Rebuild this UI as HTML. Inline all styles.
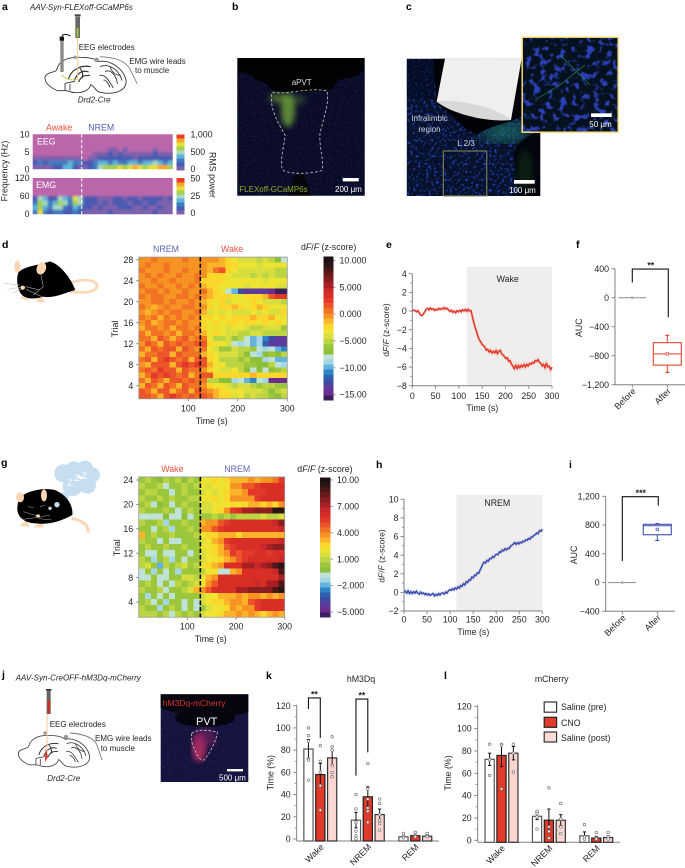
<!DOCTYPE html>
<html lang="en">
<head>
<meta charset="utf-8">
<title>Figure</title>
<style>
html,body{margin:0;padding:0;background:#fff}
svg{display:block;filter:blur(.3px)}
text{font-family:"Liberation Sans",sans-serif;font-size:8.8px;fill:#231f20}
.pl{font-weight:bold;font-size:10.5px;fill:#000}
.it{font-style:italic}
.w{fill:#fff}
.s{font-size:8px}
</style>
</head>
<body>
<svg id="fig" xmlns="http://www.w3.org/2000/svg" width="685" height="868" viewBox="0 0 685 868">
<defs>
<filter id="speck-dim" x="0" y="0" width="100%" height="100%" color-interpolation-filters="sRGB"><feTurbulence type="fractalNoise" baseFrequency="0.55" numOctaves="2" seed="4"/><feColorMatrix values="0 0 0 0 0.13 0 0 0 0 0.16 0 0 0 0 0.5 3 0 0 0 -1.75"/></filter>
<filter id="speck-cells" x="0" y="0" width="100%" height="100%" color-interpolation-filters="sRGB"><feTurbulence type="fractalNoise" baseFrequency="0.38" numOctaves="2" seed="9"/><feColorMatrix values="0 0 0 0 0.12 0 0 0 0 0.26 0 0 0 0 0.72 4.5 0 0 0 -2.4"/></filter>
<filter id="speck-inset" x="0" y="0" width="100%" height="100%" color-interpolation-filters="sRGB"><feTurbulence type="fractalNoise" baseFrequency="0.15" numOctaves="2" seed="12"/><feColorMatrix values="0 0 0 0 0.17 0 0 0 0 0.25 0 0 0 0 0.72 6 0 0 0 -3.1"/></filter>
<filter id="blur1"><feGaussianBlur stdDeviation="1"/></filter>
<filter id="blur3"><feGaussianBlur stdDeviation="3"/></filter>
<filter id="blur8"><feGaussianBlur stdDeviation="8"/></filter>
<clipPath id="clip-b"><path transform="translate(220 0) scale(.33333)" d="M52,225 C60,212 80,215 110,240 L130,245 L155,270 C190,280 290,278 335,268 L355,240 C375,232 410,240 434,205 L434,587 L52,587 Z"/></clipPath>
<clipPath id="clip-c"><rect x="406.7" y="58.7" width="133.6" height="137.3"/></clipPath>
<clipPath id="clip-inset"><rect x="521.7" y="36.7" width="96.6" height="95.6"/></clipPath>
<clipPath id="clip-eeg"><rect x="32.7" y="134.3" width="140" height="35"/></clipPath>
<clipPath id="clip-emg"><rect x="32.7" y="178" width="140" height="36.3"/></clipPath>
<g id="brain-outline" fill="none" stroke="#333" stroke-width="2.6">
<path d="M135,232 C138,216 165,218 170,210 C175,185 200,170 240,172 C270,172 285,176 295,185 C325,178 368,200 378,240 C382,268 350,287 300,277 C285,273 282,256 272,254 C268,272 240,287 200,272 L172,272 C150,262 134,248 135,232 Z"/>
<path d="M300,200 C322,190 356,205 366,242 M315,215 C330,206 350,225 352,252 M330,200 C335,215 345,226 362,226 M298,226 C315,222 326,240 340,264 M310,240 C318,240 326,250 330,262"/>
<path d="M205,238 C214,206 245,195 272,200 M222,242 C234,216 250,210 266,216 M236,246 C244,226 256,226 270,226 M240,205 C248,215 250,222 246,235" stroke-width="3.4"/>
<path d="M195,250 L195,272 M210,252 L210,272 M195,250 L225,244"/>
</g>
</defs>

<!-- panel letters -->
<text class="pl" x="2" y="10">a</text>
<text class="pl" x="232" y="10">b</text>
<text class="pl" x="406" y="10">c</text>
<text class="pl" x="2" y="248">d</text>
<text class="pl" x="386" y="248">e</text>
<text class="pl" x="576" y="248">f</text>
<text class="pl" x="1" y="466">g</text>
<text class="pl" x="376" y="468">h</text>
<text class="pl" x="569" y="468">i</text>
<text class="pl" x="2" y="678">j</text>
<text class="pl" x="266" y="679">k</text>
<text class="pl" x="444" y="679">l</text>

<!-- panel a illustration -->
<g>
<g transform="scale(.33333)">
<use href="#brain-outline"/>
<line x1="233" y1="112" x2="233" y2="240" stroke="#f6c894" stroke-width="3"/>
<path d="M185,225 C200,240 215,242 230,238" fill="none" stroke="#b6d84c" stroke-width="3"/>
<rect x="226" y="50" width="14" height="64" fill="#666"/>
<rect x="230" y="84" width="6" height="28" fill="#9ac43c"/>
<rect x="224" y="43" width="18" height="6" fill="#444"/>
<rect x="181" y="120" width="10" height="96" fill="#8a8a8a"/>
<rect x="179" y="110" width="13" height="12" fill="#111"/>
<path d="M186,110 C188,100 200,102 212,108" fill="none" stroke="#111" stroke-width="3"/>
<circle cx="225" cy="172" r="5" fill="#999"/><circle cx="290" cy="180" r="7" fill="#999"/>
<path d="M300,170 C340,172 375,180 390,207 L412,252" fill="none" stroke="#777" stroke-width="2.5"/>
</g>
</g>
<text class="it s" x="30" y="10">AAV-Syn-FLEXoff-GCaMP6s</text>
<text class="s" x="78.7" y="50">EEG electrodes</text>
<text class="s" x="129.3" y="64">EMG wire leads</text>
<text class="s" x="135" y="73">to muscle</text>
<text class="it s" x="77.7" y="102.5">Drd2-Cre</text>
<text x="46" y="130.7" style="fill:#ec5040">Awake</text>
<text x="88.3" y="130.7" style="fill:#4f5fb5">NREM</text>
<text transform="translate(7.5 171) rotate(-90)" text-anchor="middle">Frequency (Hz)</text>
<text transform="translate(209.5 175) rotate(90)" text-anchor="middle">RMS power</text>
<g id="spectro"></g>

<!-- panel b micrograph -->
<g>
<rect x="237.3" y="58" width="127.4" height="137.7" fill="#020204"/>
<g clip-path="url(#clip-b)">
<rect x="237.3" y="58" width="127.4" height="137.7" fill="#0a0c26"/>
<rect x="237.3" y="58" width="127.4" height="137.7" filter="url(#speck-dim)"/>
<g filter="url(#blur3)">
<ellipse cx="288" cy="110" rx="7" ry="17" fill="#7fb83a" opacity=".7"/>
<ellipse cx="278" cy="98" rx="9" ry="5" fill="#7fb83a" opacity=".5"/>
<ellipse cx="295" cy="100" rx="11" ry="5" fill="#5f9a3a" opacity=".35"/>
</g>
</g>
<path transform="translate(220 0) scale(.33333)" d="M205,587 C215,540 225,518 238,518 C250,518 262,540 272,587 Z" fill="#05050a"/>
<path transform="translate(220 0) scale(.33333)" d="M157,277 C200,285 260,262 320,272 C330,300 312,350 300,400 C296,440 315,490 305,512 C280,520 220,525 190,512 C175,490 195,430 195,405 C175,370 145,320 157,277 Z" fill="none" stroke="#ccc" stroke-width="2.4" stroke-dasharray="8 6"/>
</g>
<text class="s" x="301.7" y="85" text-anchor="middle" style="fill:#ddd">aPVT</text>
<rect x="342.7" y="178" width="16" height="3.4" fill="#fff"/>
<text class="s w" x="335" y="192">200 μm</text>
<text class="s" x="239.3" y="192" style="fill:#8fae2a">FLEXoff-GCaMP6s</text>

<!-- panel c micrograph -->
<g>
<g clip-path="url(#clip-c)">
<rect x="406.7" y="58.7" width="133.6" height="137.3" fill="#061028"/>
<rect x="406.7" y="58.7" width="133.6" height="137.3" filter="url(#speck-cells)"/>
<rect x="406.7" y="58.7" width="28" height="40" fill="#020a1e" opacity=".55"/>
<ellipse cx="505" cy="132" rx="26" ry="10" fill="#2ba080" opacity=".55" filter="url(#blur8)"/>
<path transform="translate(220 0) scale(.33333)" d="M640,176 L905,176 L905,350 L870,365 C830,375 800,385 770,405 L735,385 L700,350 L650,310 Z" fill="#020308"/>
<path transform="translate(220 0) scale(.33333)" d="M885,450 C900,420 930,400 961,398 L961,588 L890,588 C895,540 875,500 885,450 Z" fill="#03060e"/>
<ellipse cx="525" cy="170" rx="8" ry="20" fill="#14401f" opacity=".4" filter="url(#blur3)"/>
</g>
<path transform="translate(220 0) scale(.33333)" d="M675,176 L905,176 L873,360 C810,362 700,340 650,305 Z" fill="#efefed"/>
<path transform="translate(220 0) scale(.33333)" d="M650,305 C700,295 830,320 873,360 C810,368 700,345 650,305 Z" fill="#d8d8d6"/>
<rect x="443.3" y="151" width="43.5" height="45" fill="none" stroke="#8e8c55" stroke-width="1"/>
</g>
<text class="s" x="429.5" y="121" text-anchor="middle" style="fill:#cfd4e2">Infralimbic</text>
<text class="s" x="429.5" y="132" text-anchor="middle" style="fill:#cfd4e2">region</text>
<text class="s" x="466" y="146" text-anchor="middle" style="fill:#dde">L 2/3</text>
<rect x="514" y="180" width="20.7" height="3.7" fill="#fff"/>
<text class="s w" x="509" y="193">100 μm</text>
<g>
<g clip-path="url(#clip-inset)">
<rect x="521.7" y="36.7" width="96.6" height="95.6" fill="#05111e"/>
<rect x="521.7" y="36.7" width="96.6" height="95.6" filter="url(#speck-inset)"/>
<path d="M535,100 L560,85 L585,65 M560,55 L590,85" stroke="#2f9a55" stroke-width="1" fill="none" opacity=".6"/>
</g>
<rect x="522.2" y="37.2" width="96" height="95" fill="none" stroke="#f6dd74" stroke-width="1.5"/>
</g>
<rect x="591" y="113.3" width="20.7" height="3.7" fill="#fff"/>
<text class="s w" x="589.3" y="127">50 μm</text>

<!-- mouse d -->
<g transform="translate(0 240) scale(.33333)">
<path d="M215,127 C265,112 298,125 290,143 C282,160 240,158 210,155" fill="none" stroke="#fbd7b5" stroke-width="8"/>
<path d="M60,175 L80,160 L88,182 Z M105,185 L125,165 L135,187 Z" fill="#fbd7b5"/>
<path d="M55,98 C70,78 120,75 150,64 C185,75 215,120 226,150 C190,160 160,176 130,170 C100,180 65,178 57,150 C50,130 50,112 55,98 Z" fill="#000"/>
<ellipse cx="52" cy="80" rx="9" ry="18" fill="#fbd7b5"/>
<ellipse cx="124" cy="85" rx="14" ry="19" fill="#fbd7b5" transform="rotate(20 124 85)"/>
<ellipse cx="68" cy="143" rx="7" ry="6" fill="#fbd7b5"/>
<path d="M60,135 L10,130 M60,142 L22,148 M62,148 L40,158 M75,140 L120,150 M78,148 L125,170 M120,90 L130,140 L100,165" stroke="#bbb" stroke-width="1.6" fill="none"/>
</g>

<!-- mouse g -->
<g transform="translate(0 440) scale(.33333)">
<g fill="#c6def0">
<circle cx="190" cy="100" r="27"/><circle cx="222" cy="88" r="24"/><circle cx="255" cy="87" r="25"/><circle cx="278" cy="105" r="22"/><circle cx="262" cy="135" r="26"/><circle cx="218" cy="138" r="30"/><circle cx="190" cy="172" r="16"/>
</g>
<circle cx="171" cy="194" r="8" fill="#c6def0"/><circle cx="150" cy="205" r="5" fill="#c6def0"/><circle cx="132" cy="211" r="3" fill="#c6def0"/>
<path d="M214,235 C240,240 268,252 264,278" fill="none" stroke="#fbd7b5" stroke-width="9"/>
<path d="M58,258 L80,238 L88,260 Z M100,262 L125,242 L132,262 Z" fill="#fbd7b5"/>
<path d="M55,178 C75,152 130,142 165,150 C200,165 220,195 217,225 C190,240 150,256 110,250 C75,250 50,232 52,202 Z" fill="#000"/>
<circle cx="171" cy="194" r="8" fill="#c6def0"/><circle cx="150" cy="205" r="5" fill="#c6def0"/>
<ellipse cx="60" cy="172" rx="12" ry="15" fill="#fbd7b5"/>
<ellipse cx="132" cy="166" rx="9" ry="18" fill="#fbd7b5"/>
<ellipse cx="114" cy="228" rx="6" ry="5" fill="#fbd7b5"/>
<path d="M85,200 L100,203 M120,200 L135,196 M112,228 L70,215 M112,232 L68,238 M116,232 L150,225 M116,236 L155,240" stroke="#aaa" stroke-width="1.6" fill="none"/>
</g>
<text x="67" y="486" class="w" style="font-size:9.5px">Z</text>
<text x="74" y="481" class="w" style="font-size:9.5px">Z</text>
<text x="81.5" y="479" class="w" style="font-size:9.5px">Z</text>

<!-- heatmap titles -->
<text x="153" y="252" style="fill:#5a66b5">NREM</text>
<text x="221" y="252" style="fill:#ec5040">Wake</text>
<text x="301" y="250">d<tspan class="it">F</tspan>/<tspan class="it">F</tspan> (z-score)</text>
<text transform="translate(118 329) rotate(-90)" text-anchor="middle">Trial</text>
<text x="211.7" y="424" text-anchor="middle">Time (s)</text>

<text x="161.3" y="472" style="fill:#ec5040">Wake</text>
<text x="224.3" y="472" style="fill:#5a66b5">NREM</text>
<text x="297.3" y="472">d<tspan class="it">F</tspan>/<tspan class="it">F</tspan> (z-score)</text>
<text transform="translate(120 547.7) rotate(-90)" text-anchor="middle">Trial</text>
<text x="210.7" y="642" text-anchor="middle">Time (s)</text>

<!-- line chart titles -->
<text transform="translate(389 330) rotate(-90)" text-anchor="middle" style="font-size:8.5px">d<tspan class="it">F</tspan>/<tspan class="it">F</tspan> (z-score)</text>
<text x="482.3" y="411" text-anchor="middle">Time (s)</text>
<text transform="translate(384.5 556) rotate(-90)" text-anchor="middle" style="font-size:8.5px">d<tspan class="it">F</tspan>/<tspan class="it">F</tspan> (z-score)</text>
<text x="473.3" y="635" text-anchor="middle">Time (s)</text>

<text transform="translate(582 327.7) rotate(-90)" text-anchor="middle">AUC</text>
<text transform="translate(577 555) rotate(-90)" text-anchor="middle">AUC</text>

<!-- panel j -->
<g>
<g transform="translate(-21.3 685.1) scale(.2933)">
<use href="#brain-outline"/>
<line x1="233" y1="20" x2="233" y2="240" stroke="#f6c894" stroke-width="3.4"/>
<path d="M228,215 L236,245 L226,262 Z" fill="#d8281f"/>
</g>
<rect x="46.7" y="690" width="4" height="24" fill="#666"/>
<rect x="47.7" y="700" width="2" height="13" fill="#d8281f"/>
<rect x="46" y="689" width="5.5" height="1.5" fill="#333"/>
<path d="M70,733 C84,734 94,738 97,745 L102,760" fill="none" stroke="#777" stroke-width=".9"/>
<circle cx="45" cy="733" r="1.7" fill="#999"/><circle cx="66" cy="737" r="2.2" fill="#999"/>
</g>
<text class="it s" x="15.7" y="680.5">AAV-Syn-CreOFF-hM3Dq-mCherry</text>
<text class="s" x="49.7" y="727">EEG electrodes</text>
<text class="s" x="95" y="741">EMG wire leads</text>
<text class="s" x="100.7" y="751">to muscle</text>
<text class="it s" x="47.3" y="781">Drd2-Cre</text>
<g>
<rect x="160.7" y="694.3" width="87.6" height="87.7" fill="#15133c"/>
<rect x="160.7" y="694.3" width="87.6" height="87.7" filter="url(#speck-dim)"/>
<path d="M160.7,694.3 H248.3 V712 C225,720 190,720 160.7,708 Z" fill="#07060f"/>
<ellipse cx="205" cy="718" rx="30" ry="9" fill="#050510"/>
<ellipse cx="199" cy="748" rx="7" ry="14" fill="#d83068" opacity=".75" filter="url(#blur3)"/>
<ellipse cx="205" cy="738" rx="11" ry="10" fill="#90286a" opacity=".5" filter="url(#blur3)"/>
<path transform="scale(.33333) translate(0 2010)" d="M575,190 C595,175 630,182 652,186 C652,205 630,250 612,270 C600,272 590,258 575,215 Z" fill="none" stroke="#ccc" stroke-width="2.4" stroke-dasharray="8 5"/>
</g>
<text x="162.7" y="706" style="fill:#d8352a;font-size:8.5px">hM3Dq-mCherry</text>
<text x="196" y="725" class="w" style="font-size:11px">PVT</text>
<rect x="227" y="769" width="16" height="2.4" fill="#fff"/>
<text class="s w" x="219" y="780.5">500 μm</text>

<!-- bar titles and legend -->
<text x="361" y="682" text-anchor="middle">hM3Dq</text>
<text x="551.7" y="682" text-anchor="middle">mCherry</text>
<text transform="translate(273.5 772.7) rotate(-90)" text-anchor="middle">Time (%)</text>
<text transform="translate(451 773) rotate(-90)" text-anchor="middle">Time (%)</text>
<g>
<g><rect x="544.2" y="702" width="12.4" height="10.2" fill="#fff" stroke="#333" stroke-width="1.2"/><text x="561" y="710">Saline (pre)</text></g>
<g><rect x="544.2" y="717.3" width="12.4" height="10" fill="#e23a2a" stroke="#222" stroke-width="1.2"/><text x="561" y="726">CNO</text></g>
<g><rect x="544.2" y="732" width="12.4" height="10" fill="#fbdcd6" stroke="#333" stroke-width="1.2"/><text x="561" y="741">Saline (post)</text></g>
</g>
<g id="charts"></g>
</svg>

<script>
// ---------- panel a spectrogram data (bands 0-9, top row = highest frequency)
const eegPower = [
[0,0,0,0,0,0,0,0,0,0,0,0,0,0,0,0,0,0,0,0,0,0,0,0,0,0,0,0],
[0,0,0,0,0,0,0,0,0,0,0,0,0,0,0,0,0,0,0,0,0,0,0,0,0,0,0,0],
[0,0,0,0,0,0,0,0,0,0,0,0,0,0,0,0,0,0,0,0,0,0,0,0,0,0,0,0],
[0,0,0,0,0,0,0,0,0,0,0,0,0,0,0,1,1,0,1,0,0,0,0,0,1,0,0,0],
[0,0,0,0,0,0,0,0,0,0,0,0,1,1,1,2,1,2,1,1,1,1,1,1,2,1,1,1],
[1,1,1,1,1,1,1,1,1,1,0,1,1,2,2,2,2,2,2,2,1,2,2,2,2,2,2,2],
[2,3,2,3,3,3,3,4,3,3,2,2,3,4,4,3,4,3,3,4,4,3,4,4,5,4,3,4],
[1,1,1,1,2,2,4,4,2,1,1,2,3,5,6,6,6,7,6,7,8,7,6,7,7,8,8,6]];
const emgPower = [
[0,0,0,0,0,0,0,0,0,0,0,0,0,0,0,0,0,0,0,0,0,0,0,0,0,0,0,0],
[0,0,0,0,0,0,0,0,0,0,0,0,0,0,0,0,0,0,0,0,0,0,0,0,0,0,0,0],
[0,0,0,0,0,0,0,0,0,0,0,0,0,0,0,0,0,0,0,0,0,0,0,0,0,0,0,0],
[0,0,0,0,0,0,0,0,0,0,0,0,0,0,0,0,0,0,0,0,0,0,0,0,0,0,0,0],
[2,5,4,2,2,5,4,3,7,5,2,2,2,1,1,1,2,2,1,2,2,1,2,2,2,2,1,2],
[3,6,5,3,4,6,5,3,6,5,2,2,2,1,2,1,2,2,2,1,2,2,1,2,2,1,1,1],
[4,6,4,3,5,5,3,2,4,3,2,2,1,2,1,1,1,2,2,2,1,1,2,1,1,2,1,1],
[3,7,3,2,3,3,2,2,3,2,1,1,1,1,1,2,1,1,1,1,1,1,1,1,2,1,1,1]];
const spectroYTicksEeg = [10,5,0];
const spectroYTicksEmg = [120,60,0];
const spectroCbarEegTicks = [1000,500,0];
const spectroCbarEmgTicks = [50,25,0];

// ---------- panel d heatmap: columns are 12.5 s bins, rows from trial 28 to trial 2
const timeTicksHeat = [100,200,300];
const trialTicksD = [28,24,20,16,12,8,4];
const trialTicksG = [24,20,16,12,8,4];
const heatD = [
[0,0,1,0,0,0,0,1,0,0, 0,0,0,-1,-2,-3,-4,-4,-4,-5,-4,-5,-7,-8],
[0,1,0,0,1,0,0,0,0,0, 0,-1,-1,-1,-2,-2,-3,-3,-3,-4,-3,-3,-3,-3],
[1,0,0,0,1,0,0,1,0,0, 0,-1,1,2,-2,-3,-4,-4,-4,-4,-4,-4,-5,-5],
[0,1,0,1,0,0,1,0,0,1, 0,-2,-2,-2,-3,-4,-4,-4,-5,-4,-5,-4,-5,-5],
[0,0,1,0,0,1,0,0,0,1, -2,-2,-2,-2,-3,-3,-3,-3,-3,-3,-4,-3,-3,-3],
[1,0,0,1,0,0,1,0,1,0, -1,-2,-2,-3,-3,-3,-3,-4,-3,-3,-3,-3,-4,-4],
[0,1,1,0,1,0,0,1,0,0, 1,-1,-2,-3,-8,-10,-13,-14,-14,-14,-14,-15,-16,-16],
[1,0,1,1,0,0,1,1,0,1, 0,-1,-2,-2,-2,-3,-3,-2,-2,-2,-1,2,3,3],
[0,0,1,1,0,1,0,0,1,0, -1,-2,-3,-2,-4,-3,-3,-3,-2,-3,-4,-4,-4,-5],
[1,0,-1,0,1,0,0,1,1,0, 0,-2,-3,-2,-2,-1,-2,-3,-2,-1,-2,-3,-3,-3],
[0,-1,0,1,0,1,1,0,0,1, -1,-4,-3,-4,-3,-4,-4,-4,-3,-4,-3,-4,-4,-2],
[1,0,1,-1,1,0,1,0,1,0, -2,-2,-3,-2,-3,-2,-2,-2,-1,-2,-2,-1,-3,-3],
[0,1,-1,0,1,1,0,1,0,0, -2,-3,-2,-3,-2,-2,-3,-2,-2,-3,-2,-3,-2,-3],
[-1,1,1,0,1,-1,1,1,0,1, -2,-3,-3,-3,-4,-3,-3,-4,-5,-5,-4,-4,-4,-6],
[1,-1,1,1,0,1,-1,1,1,0, -1,-3,-2,-3,-4,-4,-5,-5,-4,-4,-5,-5,-5,-5],
[1,1,-1,2,1,-1,1,2,0,1, 1,-3,-5,-5,-4,-6,-5,-8,-10,-9,-11,-13,-14,-14],
[0,2,1,-1,2,1,2,1,1,2, 2,-2,-3,-3,-4,-8,-9,-8,-10,-9,-12,-14,-14,-14],
[1,-1,2,1,2,2,-1,2,1,0, 1,-3,-4,-6,-6,-4,-5,-5,-6,-8,-9,-8,-10,-11],
[-1,1,1,2,2,-1,2,1,1,1, -1,-2,-3,-4,-4,-4,-5,-7,-8,-9,-7,-6,-7,-5],
[1,2,-1,2,3,2,1,2,-1,2, 2,-2,-3,-5,-5,-5,-6,-5,-7,-7,-9,-8,-10,-10],
[0,-1,2,2,2,-1,2,3,2,3, 2,-1,-3,-3,-5,-5,-5,-6,-6,-7,-7,-5,-8,-9],
[1,2,1,3,2,2,-1,2,1,1, 0,-2,-3,-4,-4,-3,-5,-7,-8,-7,-8,-7,-6,-5],
[-1,1,3,2,3,2,1,2,-1,1, 2,2,-2,-2,-2,-2,-2,-2,-1,-2,-2,-2,-2,-2],
[1,-1,2,1,-1,2,2,1,2,1, 1,-5,-5,-7,-7,-9,-8,-10,-11,-8,-9,-15,-15,-15],
[-1,2,1,-1,2,1,-1,2,1,1, 0,-2,-3,-3,-4,-5,-4,-4,-5,-6,-5,-5,-6,-6],
[2,1,-1,2,2,-1,1,2,-1,2, 1,0,-1,-2,-3,-3,-3,-4,-4,-4,-5,-7,-5,-4],
[2,2,1,-1,2,3,2,1,2,1, 2,1,-1,-2,-2,-4,-3,-5,-4,-5,-5,-6,-7,-5]];
const cbarTicksD = [10,5,0,-5,-10,-15];
const cbarLabelsD = ["10.000","5.000","0.000","−5.000","−10.00","−15.00"];

// ---------- panel g heatmap: columns are 12.5 s bins, rows from trial 24 to trial 2
const heatG = [
[.5,1,.5,0,1,.5,1,0,1,.5, 2,2,2.5,2,2.5,3,3,3,3.5,3,4,4,4.5,5.5],
[1,.3,.5,1,-.6,.5,.3,1,.5,1, 2,1.5,2,2,2,3.5,4,5,5,5.5,6,6,6,6],
[.5,1,1,.3,.5,-.8,.3,1,.5,.3, 1.5,2,1.5,2,2.5,3,3,3.5,5.5,5.5,5.5,6,6,6],
[1,.5,.3,1,.5,1,.5,.3,1,1, 2,2,2.5,2,2.5,3.5,4,3.5,4,5.5,6,6,6,6],
[.3,1,-.7,-.4,.5,-.7,.3,1,.5,.3, 1.5,1.5,2,2,2,2.5,2,2.5,3,3,2.5,3,2.5,3.5],
[1,.5,.3,.5,1,.3,-.6,.5,1,.3, 1.5,1.5,2,2.5,3.5,5.5,6,7,7,8,8,8,9.5,9.5],
[-.8,-.9,-.5,-.9,0,-.7,-.5,0,-.7,.3, .5,.5,1,.5,1,.5,1,1,1,1,1.5,1,1,1.5],
[1,.3,.5,1,-1.6,.5,.3,1,.5,.5, 3,3.5,4,5,5.5,6,6,6,6,6,6,6,6.5,7.5],
[.5,.3,-.6,.5,1,-1.5,.5,.3,1,.5, 3.5,4,5,5.5,6,6,6,6,6,6,6,6,6,6.5],
[3,.5,1,.5,.3,1,.5,.3,.5,1, 2,2.5,2.5,3,3,3,2.5,3,3,3,3,3,3,3],
[1,.3,.5,-.7,.5,-.9,-.7,.5,.3,.5, 1.5,2,3,3.5,5.5,6,6,6,6,6,6,6,6,6.5],
[.5,1,.3,.5,1,.5,.3,1,.5,.3, 2,2,2.5,3,5,5.5,6,6,6,6,6.5,7,7.5,7.5],
[.5,-.9,-.9,.5,-1,-.9,.5,.3,-.5,.5, 1.5,2,2.5,3,4,5.5,5,5.5,5.5,6,6,5.5,6,6],
[1,.3,-1.5,.5,1,-1.6,.5,-1,.3,.5, 1.5,2,2,2.5,3,3.5,5,5.5,6,6,6,6,6,6.5],
[1,1.5,.5,-1.7,1,.5,1,1.5,.5,1, 2,2.5,3,3.5,6,6,6,7,7,6.5,7,7.5,9,9.5],
[-.9,.3,-1.5,.5,-.7,.3,-1.5,.5,.3,.5, 1,2,2,-.8,-.9,3,3.5,6,6,6,6,6,6.5,9],
[-.8,-.9,.5,-.9,-.9,.5,.3,1.5,1.5,1, 2,3,4,6,6,6,6,6,6,6,6,6,6,7],
[.5,1,.3,-.7,.5,-.8,1,.5,1,1.5, 2,3.5,5,6,6,6,6,6,6,6.5,6,7,7,9],
[1,.3,.5,1,-.7,.5,.3,1,1.5,3, 3.5,5,6,6,6,6,7,7,8,8,8,8,9,9.5],
[.3,-1.2,.5,-.7,.5,-.9,.5,.3,.5,.5, 1.5,2,2,3,3,3,3.5,3,3.5,3.5,3,3.5,3,4],
[.5,1,-.7,.5,-1.5,.5,.3,-.8,.5,-.5, 1.5,2,2.5,2.5,3,3.5,4,3,5,5.5,6,6,6,6],
[1,.3,.5,-1.6,.5,1,.5,-.8,.3,-.8, .5,1.5,2,2,2.5,3.5,3,4,4,5.5,6,6,6,6],
[.8,1,1,.5,1,-.6,1,.5,1,.5, 1.5,2,2,2.5,3,3,3.5,3,3.5,3,2.5,3,3.5,3]];
const cbarTicksG = [10,7,4,1,-2,-5];
const cbarLabelsG = ["10.00","7.000","4.000","1.000","−2.000","−5.000"];

// shared heatmap colour bands, lowest value first
const heatBands = ["#3b2060","#6b2d8f","#5d3a9b","#3f4ba3","#2f5fae","#2f86c6","#63b3de","#a4d7e5","#bfe2d6","#8fbf3a","#9cc63c","#bbd441","#d8de3e","#efe332","#fbd72b","#fbb42a","#f79323","#f27323","#ec5528","#e3392a","#d92e26","#c9282a","#a82024","#8a1d1f","#6b1b1c","#4b1717","#2c1414","#1a1212"];
const spectroBands = ["#bb66aa","#7d62ad","#4a5ab0","#3f7cc0","#5fb5d8","#a8d8c0","#a5cf4c","#e6dd3a","#f6a72b","#e83e2a"];

// ---------- panel e line: samples every 3 s
const traceE = [0,.1,.05,-.1,.05,-.2,-.45,-.5,-.3,-.05,.2,.3,.1,.35,.15,.25,.05,.2,.1,.3,.15,.3,.2,.4,.2,.3,.1,-.05,.1,-.15,0,-.2,.05,-.1,.1,-.1,.15,0,.2,-.05,.2,0,.05,-.6,-1.2,-1.8,-2.2,-2.7,-3.1,-3.3,-3.6,-3.7,-3.9,-4.2,-4.1,-4.4,-4.2,-4.5,-4.3,-4.5,-4.2,-4.6,-4.3,-4.2,-4.6,-4.7,-4.9,-5.1,-5,-5.4,-5.3,-5.7,-5.9,-6.2,-5.8,-6.2,-5.8,-6.1,-5.8,-6,-5.7,-6,-5.7,-5.9,-5.6,-5.7,-5.5,-5.6,-5.3,-5.4,-5.2,-5.5,-5.6,-5.9,-5.7,-6.1,-5.6,-6,-5.9,-6.3,-6];
const timeTicksLine = [0,50,100,150,200,250,300];
const yTicksE = [4,2,0,-2,-4,-6,-8];
const yMinorE = [3,1,-1,-3,-5,-7];

// ---------- panel h line: samples every 3 s
const traceH = [0,.15,-.1,.2,-.15,.1,-.15,.1,-.1,.15,-.1,-.2,.05,-.15,-.05,-.25,-.1,-.3,-.15,-.35,-.2,-.1,-.4,-.2,-.35,-.1,-.3,-.1,-.05,-.2,.05,-.1,.15,.3,.2,.4,.25,.5,.35,.6,.45,.75,.65,.95,.8,1.15,1.05,1.35,1.3,1.65,1.55,1.85,1.8,2.1,2.05,2.4,2.7,3.05,3.25,3.15,3.45,3.35,3.65,3.6,3.85,3.75,4,4.1,4.05,4.35,4.3,4.55,4.45,4.7,4.55,4.75,4.7,4.95,5.05,5.2,5.35,5.15,5.35,5.2,5.4,5.3,5.5,5.45,5.65,5.6,5.8,5.7,5.95,5.95,6.15,6.2,6.4,6.3,6.65,6.55,6.8];
const yTicksH = [10,8,6,4,2,0,-2];
const yMinorH = [9,7,5,3,1,-1];

// ---------- box plots
const boxCats = ["Before","After"];
const yTicksF = [400,0,-400,-800,-1200];
const boxF = {whiskerLow:-1030,q1:-930,median:-775,mean:-775,q3:-620,whiskerHigh:-520,before:0};
const bracketF = [210,395,-270];
const yTicksI = [1200,800,400,0,-400];
const boxI = {whiskerLow:585,q1:665,median:790,mean:740,q3:810,whiskerHigh:820,before:0};
const bracketI = [300,1195,1070];

// ---------- bar charts
const barGroups = ["Wake","NREM","REM"];
const barTicks = [0,20,40,60,80,100,120];
const barMinor = [10,30,50,70,90,110];
const kMeans = [[81,58,73],[17,38,22],[2,3,2.5]];
const kErr = [[8.5,10,7],[7,9,5],[.6,.7,.6]];
const kPoints = [
[[100,93,88,72,71,53],[84,70,60,48,26],[92,83,80,66,60,56]],
[[40,27,15,7,3,0],[68,45,36,28,25,15],[36,32,22,17,14,8]],
[[5,2,1],[6,3,2],[5,3,2]]];
const kBrackets = [{group:0,a:0,b:1,low:117,top:127,high:91,label:"**"},{group:1,a:0,b:1,low:57,top:126,high:78,label:"**"}];
const lMeans = [[72.5,76,78],[21.5,18,18],[4,2,2.5]];
const lErr = [[5.5,10,6],[3,10,5],[3.5,1.5,1.5]];
const lPoints = [
[[86,72,58],[86,85,46],[86,78,61]],
[[26,24,21,10],[47,12,8,2],[33,19,12,6]],
[[14,3,1],[7,2,1],[7,3,1]]];

// ---------- helpers
const NS = "http://www.w3.org/2000/svg";
const root = document.getElementById("charts");
function scale(d0,d1,r0,r1){ return v => r0 + (v-d0)*(r1-r0)/(d1-d0); }
function make(tag, attrs, parent){
  const el = document.createElementNS(NS, tag);
  for (const k in attrs) el.setAttribute(k, attrs[k]);
  (parent || root).appendChild(el);
  return el;
}
function mark(tag, attrs, name, parent){
  const el = make(tag, attrs, parent);
  
  
  return el;
}
function label(str, attrs, name, parent){
  const el = mark('text', attrs, name, parent);
  el.textContent = str;
  return el;
}
const num = v => (v < 0 ? "−" : "") + Math.abs(v).toLocaleString("en-US");
const AXIS = "#808080";

function yAxis(name, y, ticks, minor, x, top, bottom, labelX, fmt){
  const g = mark('g', {}, name);
  mark('line', {x1:x,x2:x,y1:top,y2:bottom,stroke:AXIS,'stroke-width':1}, name + '-line', g);
  ticks.forEach(t => {
    mark('line', {x1:x-3.5,x2:x,y1:y(t),y2:y(t),stroke:AXIS,'stroke-width':.9}, name + '-tick', g);
    label((fmt||num)(t), {x:labelX,y:y(t)+3.1,'text-anchor':'end'}, name + '-tick-label', g);
  });
  (minor||[]).forEach(t => {
    mark('line', {x1:x-2,x2:x,y1:y(t),y2:y(t),stroke:AXIS,'stroke-width':.8}, name + '-minor-tick', g);
  });
}
function xAxis(name, x, ticks, y, left, right, labelY){
  const g = mark('g', {}, name);
  mark('line', {x1:left,x2:right,y1:y,y2:y,stroke:AXIS,'stroke-width':1}, name + '-line', g);
  ticks.forEach(t => {
    mark('line', {x1:x(t),x2:x(t),y1:y,y2:y+3,stroke:AXIS,'stroke-width':.9}, name + '-tick', g);
    label(num(t), {x:x(t),y:labelY,'text-anchor':'middle'}, name + '-tick-label', g);
  });
}

// ---------- spectrograms (panel a)
function spectrogram(name, rows, left, right, top, bottom, clipId){
  const outer = mark('g', {'clip-path':'url(#' + clipId + ')'}, name, document.getElementById('spectro'));
  const g = make('g', {filter:'url(#blur1)'}, outer);
  const cx = scale(0, rows[0].length, left, right);
  const cy = scale(0, rows.length, top, bottom);
  rows.forEach((row,r) => row.forEach((v,c) => {
    const padL = c === 0 ? 4 : 0, padR = c === row.length-1 ? 4 : 0;
    const padT = r === 0 ? 4 : 0, padB = r === rows.length-1 ? 4 : 0;
    const cell = make('rect', {x:cx(c)-padL,y:cy(r)-padT,width:cx(1)-cx(0)+.4+padL+padR,height:cy(1)-cy(0)+.4+padT+padB,fill:spectroBands[v]}, g);
    
    
  }));
  return g;
}
function spectroCbar(name, left, width, top, bottom){
  const g = mark('g', {'shape-rendering':'crispEdges'}, name, document.getElementById('spectro'));
  const n = spectroBands.length - 1;
  const h = (bottom-top)/n;
  for (let i = 0; i < n; i++) {
    const seg = make('rect', {x:left,y:bottom-(i+1)*h,width:width,height:h+.4,fill:spectroBands[i+1]}, g);
    
    
  }
}
const sg = document.getElementById('spectro');
spectrogram('eeg-spectrogram', eegPower, 32.7, 172.7, 134.3, 169.3, 'clip-eeg');
spectrogram('emg-spectrogram', emgPower, 32.7, 172.7, 178, 214.3, 'clip-emg');
spectroCbar('eeg-colorbar', 176.7, 7.6, 134.3, 170);
spectroCbar('emg-colorbar', 176.7, 7.6, 178, 214);
mark('line', {x1:81.7,x2:81.7,y1:134,y2:214.5,stroke:'#fff','stroke-width':1,'stroke-dasharray':'3.5 2'}, 'state-change-line-a', sg);
label('EEG', {x:37,y:144.5,class:'w'}, 'eeg-inset-label', sg);
label('EMG', {x:36,y:188,class:'w'}, 'emg-inset-label', sg);
const eegY = scale(10,0,134.3,169.3), emgY = scale(120,0,178,214);
spectroYTicksEeg.forEach(t => label(num(t), {x:29.5,y:eegY(t)+3.2,'text-anchor':'end'}, 'eeg-y-tick-label', sg));
spectroYTicksEmg.forEach(t => label(num(t), {x:29.5,y:emgY(t)+3.2,'text-anchor':'end'}, 'emg-y-tick-label', sg));
const eegCb = scale(1000,0,134.5,169), emgCb = scale(50,0,178.5,213);
spectroCbarEegTicks.forEach(t => label(num(t), {x:190.5,y:eegCb(t)+3.2}, 'eeg-colorbar-tick-label', sg));
spectroCbarEmgTicks.forEach(t => label(num(t), {x:190.5,y:emgCb(t)+3.2}, 'emg-colorbar-tick-label', sg));

// ---------- heatmaps
function heatmap(name, rows, topTrial, cfg){
  const g = mark('g', {'shape-rendering':'crispEdges'}, name);
  const x = scale(0,300,cfg.x0,cfg.x300);
  const y = scale(cfg.t1,cfg.t2,cfg.y1,cfg.y2);
  const span = cfg.vmax - cfg.vmin, n = heatBands.length;
  const binS = 300/rows[0].length;
  rows.forEach((row,r) => row.forEach((v,c) => {
    const trial = topTrial - r;
    const idx = Math.max(0, Math.min(n-1, Math.floor((v-cfg.vmin)/span*n)));
    const cell = make('rect', {x:x(c*binS),y:y(trial+.5),width:x(binS)-x(0)+.4,height:y(trial-.5)-y(trial+.5)+.4,fill:heatBands[idx]}, g);
    
    
  }));
  const top = y(topTrial+.5), bottom = y(topTrial-rows.length+.5);
  mark('rect', {x:cfg.x0,y:top,width:cfg.x300-cfg.x0,height:bottom-top,fill:'none',stroke:'#999','stroke-width':.8}, name + '-frame');
  mark('line', {x1:x(cfg.breakT),x2:x(cfg.breakT),y1:top,y2:bottom,stroke:'#000','stroke-width':1.6,'stroke-dasharray':'4.5 2'}, name + '-state-change-line');
  cfg.trialTicks.forEach(t => {
    mark('line', {x1:cfg.x0-2.5,x2:cfg.x0,y1:y(t),y2:y(t),stroke:AXIS,'stroke-width':.9}, name + '-y-tick');
    label(num(t), {x:cfg.x0-5.5,y:y(t)+3.2,'text-anchor':'end'}, name + '-y-tick-label');
  });
  timeTicksHeat.forEach(t => {
    mark('line', {x1:x(t),x2:x(t),y1:bottom,y2:bottom+2.5,stroke:AXIS,'stroke-width':.9}, name + '-x-tick');
    label(num(t), {x:x(t),y:cfg.labelY,'text-anchor':'middle'}, name + '-x-tick-label');
  });
  // colour bar
  const cb = mark('g', {'shape-rendering':'crispEdges'}, name + '-colorbar');
  const cy = scale(cfg.vmin,cfg.vmax,cfg.cbBottom,cfg.cbTop);
  heatBands.forEach((c,i) => {
    const v0 = cfg.vmin + span*i/n, v1 = cfg.vmin + span*(i+1)/n;
    const seg = make('rect', {x:cfg.cbX,y:cy(v1),width:cfg.cbW,height:cy(v0)-cy(v1)+.4,fill:c}, cb);
    
    
  });
  cfg.cbTicks.forEach((t,i) => {
    mark('line', {x1:cfg.cbX+cfg.cbW,x2:cfg.cbX+cfg.cbW+2,y1:cy(t),y2:cy(t),stroke:AXIS,'stroke-width':.9}, name + '-colorbar-tick');
    label(cfg.cbLabels[i], {x:cfg.cbLabelX,y:cy(t)+3.1}, name + '-colorbar-tick-label');
  });
}
heatmap('heatmap-d', heatD, 28, {x0:138.8,x300:287.3,t1:28,t2:4,y1:259.7,y2:385.7,vmin:-16,vmax:10.7,breakT:124.3,
  trialTicks:trialTicksD,labelY:411.7,cbX:323.3,cbW:10,cbTop:256.7,cbBottom:400,cbTicks:cbarTicksD,cbLabels:cbarLabelsD,cbLabelX:339.5});
heatmap('heatmap-g', heatG, 24, {x0:138.7,x300:284.7,t1:24,t2:4,y1:480,y2:602,vmin:-5.6,vmax:10.3,breakT:126.7,
  trialTicks:trialTicksG,labelY:629.5,cbX:320,cbW:10.7,cbTop:477.3,cbBottom:617.3,cbTicks:cbarTicksG,cbLabels:cbarLabelsG,cbLabelX:337});

// ---------- line charts
function lineChart(name, trace, cfg){
  const x = scale(0,300,cfg.x0,cfg.x300);
  const y = scale(cfg.vTop,cfg.vBottom,cfg.yTop,cfg.yBottom);
  const step = 300/(trace.length-1);
  mark('rect', {x:cfg.bandX,y:cfg.bandTop,width:cfg.x300-cfg.bandX,height:cfg.yBottom-cfg.bandTop,fill:'#efeeed'}, name + '-state-band');
  const d = trace.map((v,i) => (i?'L':'M') + x(i*step).toFixed(2) + ',' + y(v).toFixed(2)).join('');
  mark('path', {d:d,fill:'none',stroke:cfg.color,'stroke-width':3,opacity:.15}, name + '-error-band');
  mark('path', {d:d,fill:'none',stroke:cfg.color,'stroke-width':1.5,'stroke-linejoin':'round'}, name + '-trace');
  yAxis(name + '-y-axis', y, cfg.yTicks, cfg.yMinor, cfg.x0, cfg.yTop, cfg.yBottom, cfg.x0-5.5);
  xAxis(name + '-x-axis', x, timeTicksLine, cfg.yBottom, cfg.x0, cfg.x300, cfg.labelY);
  label(cfg.state, {x:cfg.stateX,y:cfg.stateY,'text-anchor':'middle'}, name + '-state-label');
}
lineChart('line-chart-e', traceE, {x0:412.3,x300:552,vTop:4,vBottom:-8,yTop:273.7,yBottom:385.7,bandX:466.7,bandTop:267,color:'#e43a2c',
  yTicks:yTicksE,yMinor:yMinorE,labelY:399,state:'Wake',stateX:507.7,stateY:282});
lineChart('line-chart-h', traceH, {x0:404,x300:542.3,vTop:10,vBottom:-2,yTop:499.3,yBottom:611,bandX:456.3,bandTop:495,color:'#3c4fae',
  yTicks:yTicksH,yMinor:yMinorH,labelY:622.5,state:'NREM',stateX:497.3,stateY:506});

// ---------- box plots
function boxPlot(name, stats, bracket, stars, cfg){
  const y = scale(cfg.vTop,cfg.vBottom,cfg.yTop,cfg.yBottom);
  yAxis(name + '-y-axis', y, cfg.ticks, [], cfg.axisX, cfg.yTop, cfg.yBottom, cfg.axisX-6);
  mark('line', {x1:cfg.axisX,x2:cfg.axisEnd,y1:cfg.yBottom,y2:cfg.yBottom,stroke:AXIS,'stroke-width':1}, name + '-x-axis-line');
  boxCats.forEach((c,i) => {
    const cx = i ? cfg.afterX : cfg.beforeX;
    mark('line', {x1:cx,x2:cx,y1:cfg.yBottom,y2:cfg.yBottom+3,stroke:AXIS,'stroke-width':.9}, name + '-x-tick');
    label(c, {transform:'translate(' + (cx+4) + ' ' + (cfg.yBottom+7) + ') rotate(-45)','text-anchor':'end'}, name + '-x-tick-label');
  });
  const hw = cfg.boxHalf, a = cfg.afterX;
  mark('line', {x1:cfg.beforeX-hw,x2:cfg.beforeX+hw,y1:y(stats.before),y2:y(stats.before),stroke:'#9a9a9a','stroke-width':1.2}, name + '-before-box');
  mark('rect', {x:cfg.beforeX-1.2,y:y(stats.before)-1.2,width:2.4,height:2.4,fill:'#aaa'}, name + '-before-mean');
  mark('line', {x1:a,x2:a,y1:y(stats.whiskerLow),y2:y(stats.whiskerHigh),stroke:cfg.color,'stroke-width':1}, name + '-whisker');
  [stats.whiskerLow,stats.whiskerHigh].forEach(v => {
    mark('line', {x1:a-2,x2:a+2,y1:y(v),y2:y(v),stroke:cfg.color,'stroke-width':1.2}, name + '-whisker-cap');
  });
  mark('rect', {x:a-hw,y:y(stats.q3),width:2*hw,height:y(stats.q1)-y(stats.q3),fill:'#fff',stroke:cfg.color,'stroke-width':1.1}, name + '-after-box');
  mark('line', {x1:a-hw,x2:a+hw,y1:y(stats.median),y2:y(stats.median),stroke:cfg.color,'stroke-width':1}, name + '-after-median');
  mark('rect', {x:a-1.2,y:y(stats.mean)-1.2,width:2.4,height:2.4,fill:'#fff',stroke:cfg.color,'stroke-width':.7}, name + '-after-mean');
  const p = 'M' + cfg.beforeX + ',' + y(bracket[0]) + 'V' + y(bracket[1]) + 'H' + (a+1) + 'V' + y(bracket[2]);
  mark('path', {d:p,fill:'none',stroke:'#111','stroke-width':1.1}, name + '-significance-bracket');
  label(stars, {x:(cfg.beforeX+a)/2+1,y:y(bracket[1])-0.5,'text-anchor':'middle','font-weight':'bold'}, name + '-significance-stars');
}
boxPlot('box-plot-f', boxF, bracketF, '**', {vTop:400,vBottom:-1200,yTop:268.7,yBottom:384.7,axisX:615,axisEnd:685,beforeX:632.3,afterX:667.3,boxHalf:14,color:'#e8432e',ticks:yTicksF});
boxPlot('box-plot-i', boxI, bracketI, '***', {vTop:1200,vBottom:-400,yTop:496.3,yBottom:611.3,axisX:605.7,axisEnd:675,beforeX:622.3,afterX:657.3,boxHalf:14,color:'#3f52b0',ticks:yTicksI});

// ---------- bar charts
function barChart(name, means, errs, pts, brackets, cfg){
  const y = scale(0,120,cfg.y0,cfg.y120);
  const gx = scale(0,2,cfg.g0,cfg.g2);
  const fills = ['#fff','#e23a2a','#fbd5d0'];
  const strokes = ['#555','#222','#333'];
  yAxis(name + '-y-axis', y, barTicks, barMinor, cfg.axisX, cfg.y120-1, cfg.axisY, cfg.axisX-6);
  mark('line', {x1:cfg.axisX,x2:cfg.axisEnd,y1:cfg.axisY,y2:cfg.axisY,stroke:AXIS,'stroke-width':1}, name + '-x-axis-line');
  barGroups.forEach((grp,i) => {
    label(grp, {transform:'translate(' + (gx(i)+4) + ' ' + (cfg.axisY+6.5) + ') rotate(-45)','text-anchor':'end'}, name + '-x-tick-label');
    means[i].forEach((m,j) => {
      const cx = gx(i) + (j-1)*11.85;
      mark('rect', {x:cx-4.6,y:y(m),width:9.2,height:cfg.axisY-y(m),fill:fills[j],stroke:strokes[j],'stroke-width':1.2}, name + '-bar-' + grp.toLowerCase() + '-' + j);
      const e = errs[i][j];
      mark('line', {x1:cx,x2:cx,y1:y(m-e),y2:y(m+e),stroke:'#111','stroke-width':1}, name + '-error-bar');
      mark('line', {x1:cx-1.6,x2:cx+1.6,y1:y(m+e),y2:y(m+e),stroke:'#111','stroke-width':1}, name + '-error-cap');
      mark('line', {x1:cx-1.6,x2:cx+1.6,y1:y(m-e),y2:y(m-e),stroke:'#111','stroke-width':1}, name + '-error-cap');
      pts[i][j].forEach(v => {
        mark('circle', {cx:cx,cy:y(v),r:1.3,fill:'#fff',stroke:'#777','stroke-width':.7}, name + '-data-point');
      });
    });
  });
  brackets.forEach(b => {
    const xa = gx(b.group) + (b.a-1)*11.85, xb = gx(b.group) + (b.b-1)*11.85;
    mark('path', {d:'M'+xa+','+y(b.low)+'V'+y(b.top)+'H'+xb+'V'+y(b.high),fill:'none',stroke:'#111','stroke-width':1.1}, name + '-significance-bracket');
    label(b.label, {x:(xa+xb)/2,y:y(b.top)-0.5,'text-anchor':'middle','font-weight':'bold'}, name + '-significance-stars');
  });
}
barChart('bar-chart-k', kMeans, kErr, kPoints, kBrackets, {y0:839,y120:705.7,axisY:841,axisX:296.7,axisEnd:439,g0:320.3,g2:415.3});
barChart('bar-chart-l', lMeans, lErr, lPoints, [], {y0:840.3,y120:706.3,axisY:842.3,axisX:477.7,axisEnd:620,g0:501.5,g2:596.3});
</script>
</body>
</html>
